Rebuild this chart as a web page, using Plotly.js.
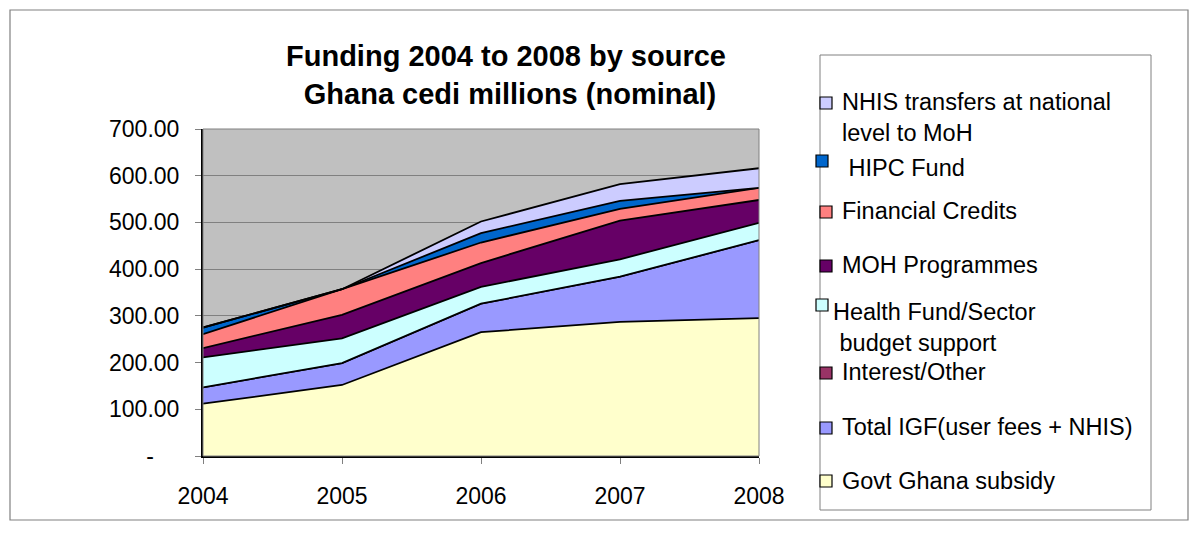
<!DOCTYPE html>
<html>
<head>
<meta charset="utf-8">
<script src="https://cdn.plot.ly/plotly-3.0.1.min.js"></script>
<style>html,body{margin:0;padding:0;background:#fff;}#chart{width:1200px;height:538px;}</style>
</head>
<body>
<div id="chart"></div>
<script>
// ---- data ----
const years = [2004, 2005, 2006, 2007, 2008];
const govtSubsidy   = [112, 152, 265, 287, 295];
const totalIGF      = [35, 47, 61, 97, 167];
const interestOther = [0, 0, 0, 0, 0];
const healthFund    = [64, 53, 36, 37, 37];
const mohProgrammes = [20, 50, 51, 83, 49];
const finCredits    = [30, 55, 44, 25, 26];
const hipcFund      = [14, 0, 20, 17, 0];
const nhisTransfers = [0, 0, 25, 36, 42];

const seriesNames = [
  "Govt Ghana subsidy",
  "Total IGF(user fees + NHIS)",
  "Interest/Other",
  "Health Fund/Sector<br> budget support",
  "MOH Programmes",
  "Financial Credits",
  " HIPC Fund",
  "NHIS transfers at national<br>level to MoH"
];
const seriesValues = [govtSubsidy, totalIGF, interestOther, healthFund, mohProgrammes, finCredits, hipcFund, nhisTransfers];

const yTickVals = [0, 100, 200, 300, 400, 500, 600, 700];
const yTickText = ["-\u00a0\u00a0\u00a0\u00a0", "100.00", "200.00", "300.00", "400.00", "500.00", "600.00", "700.00"];
const xTickText = ["2004", "2005", "2006", "2007", "2008"];

// ---- styles ----
const colors = ["#FFFFCC", "#9999FF", "#993366", "#CCFFFF", "#660066", "#FF8080", "#0066CC", "#CCCCFF"];
const FONT = "Liberation Sans, Arial, sans-serif";

// layout geometry (pixels)
const W = 1200, H = 538;
const M = {l: 203, r: 441, t: 129, b: 82};
const PW = W - M.l - M.r, PH = H - M.t - M.b;
const px = x => (x - M.l) / PW;
const py = y => (H - M.b - y) / PH;

const traces = seriesValues.map((vals, i) => ({
  type: "scatter",
  mode: "lines",
  x: years,
  y: vals,
  name: seriesNames[i],
  stackgroup: "one",
  fillcolor: colors[i],
  line: {color: "#000000", width: 1.8},
  hoverinfo: "skip",
  showlegend: false
}));

// manual legend (swatches + labels) — pixel layout of reference legend
const legendRows = [
  {sx: 820, sy: 103, tx: 840, ty: 117},   // NHIS
  {sx: 816, sy: 161, tx: 840, ty: 168},   // HIPC
  {sx: 820, sy: 212, tx: 840, ty: 211},   // Financial credits
  {sx: 820, sy: 266, tx: 840, ty: 265},   // MOH
  {sx: 816, sy: 305, tx: 831, ty: 327},   // Health fund
  {sx: 820, sy: 373, tx: 840, ty: 372},   // Interest
  {sx: 820, sy: 428, tx: 840, ty: 427},   // IGF
  {sx: 820, sy: 481, tx: 840, ty: 481}    // Subsidy
];

const shapes = [
  // outer chart frame
  {type: "rect", xref: "paper", yref: "paper", x0: px(10), x1: px(1188), y0: py(520), y1: py(10),
   line: {color: "#808080", width: 1.2}, fillcolor: "rgba(0,0,0,0)", layer: "below"},
  // legend box
  {type: "rect", xref: "paper", yref: "paper", x0: px(820), x1: px(1151), y0: py(510), y1: py(55),
   line: {color: "#808080", width: 1}, fillcolor: "#ffffff", layer: "below"},
  // plot area border
  {type: "rect", xref: "paper", yref: "paper", x0: 0, x1: 1, y0: 0, y1: 1,
   line: {color: "#808080", width: 1}, fillcolor: "rgba(0,0,0,0)", layer: "above"}
];
const annotations = [];
const order = [7, 6, 5, 4, 3, 2, 1, 0];
order.forEach((si, k) => {
  const r = legendRows[k];
  shapes.push({type: "rect", xref: "paper", yref: "paper",
    x0: px(r.sx), x1: px(r.sx + 12), y0: py(r.sy + 6), y1: py(r.sy - 6),
    fillcolor: colors[si], line: {color: "#000000", width: 1.2}, layer: "above"});
  annotations.push({xref: "paper", yref: "paper", x: px(r.tx), y: py(r.ty),
    xanchor: "left", yanchor: "middle", align: "left", showarrow: false,
    text: seriesNames[si], font: {family: FONT, size: 23.5, color: "#000"}});
});

const layout = {
  width: W, height: H,
  margin: M,
  paper_bgcolor: "#ffffff",
  plot_bgcolor: "#C0C0C0",
  showlegend: false,
  title: {
    text: "<b>Funding 2004 to 2008 by source<br> Ghana cedi millions (nominal)</b>",
    font: {family: FONT, size: 29, color: "#000"},
    x: 506 / W, xanchor: "center", xref: "container",
    y: 1 - 66 / H, yanchor: "middle", yref: "container"
  },
  xaxis: {
    type: "linear", range: [years[0], years[years.length - 1]],
    tickvals: years, ticktext: xTickText,
    showgrid: false, zeroline: false,
    showline: true, linecolor: "#000000", linewidth: 2,
    ticks: "outside", ticklen: 6, tickcolor: "#808080", tickwidth: 1,
    ticklabelstandoff: 12,
    tickfont: {family: FONT, size: 23, color: "#000"}
  },
  yaxis: {
    range: [0, 700],
    tickvals: yTickVals, ticktext: yTickText,
    showgrid: true, gridcolor: "#808080", gridwidth: 1,
    zeroline: false,
    showline: true, linecolor: "#000000", linewidth: 2,
    ticks: "outside", ticklen: 6, tickcolor: "#808080", tickwidth: 1,
    ticklabelstandoff: 11,
    tickfont: {family: FONT, size: 23, color: "#000"}
  },
  shapes: shapes,
  annotations: annotations
};

Plotly.newPlot("chart", traces, layout, {displayModeBar: false, staticPlot: true});
</script>
</body>
</html>
